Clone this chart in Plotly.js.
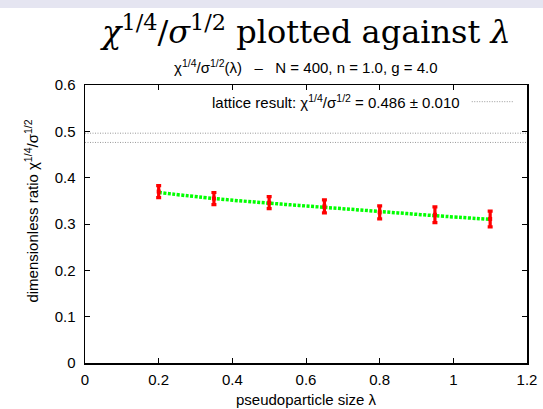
<!DOCTYPE html>
<html>
<head>
<meta charset="utf-8">
<script src="https://cdn.plot.ly/plotly-3.0.1.min.js"></script>
<style>
html,body{margin:0;padding:0;background:#fff;}
#chart{width:543px;height:409px;}
</style>
</head>
<body>
<div id="chart"></div>
<script>
// data
var lambdaVals = [0.2, 0.35, 0.5, 0.65, 0.8, 0.95, 1.1];
var ratioVals  = [0.370, 0.355, 0.346, 0.338, 0.325, 0.320, 0.311];
var ratioErr   = [0.013, 0.013, 0.013, 0.014, 0.014, 0.017, 0.017];
var fitVals    = [0.368, 0.355, 0.345, 0.336, 0.327, 0.318, 0.310];
var latticeX   = [0, 1.2];
var latticeMean = 0.486;
var latticeErr  = 0.010;
var latticeUpper = [latticeMean + latticeErr, latticeMean + latticeErr];
var latticeLower = [latticeMean - latticeErr, latticeMean - latticeErr];
var xTicks = [0, 0.2, 0.4, 0.6, 0.8, 1, 1.2];
var xTickText = ["0", "0.2", "0.4", "0.6", "0.8", "1", "1.2"];
var yTicks = [0, 0.1, 0.2, 0.3, 0.4, 0.5, 0.6];
var yTickText = ["0", "0.1", "0.2", "0.3", "0.4", "0.5", "0.6"];

var sans = "Liberation Sans, Arial, sans-serif";
var serif = "DejaVu Serif, Liberation Serif, serif";
var sp = "\u00A0\u00A0\u00A0";

var traces = [
  {x: latticeX, y: latticeUpper, mode: 'lines', line: {color: '#999999', width: 1, dash: '1px,1.5px'}, hoverinfo: 'skip'},
  {x: latticeX, y: latticeLower, mode: 'lines', line: {color: '#999999', width: 1, dash: '1px,1.5px'}, hoverinfo: 'skip'},
  {x: lambdaVals, y: fitVals, mode: 'lines', line: {color: '#00ff00', width: 3.5, dash: '3px,1.5px', shape: 'spline'}},
  {x: lambdaVals, y: ratioVals, mode: 'markers',
   marker: {color: '#ff0000', size: 4, symbol: 'square'},
   error_y: {type: 'data', array: ratioErr, visible: true, color: '#ff0000', thickness: 3.2, width: 2.5}}
];

var axisCommon = {
  showgrid: false, zeroline: false, showline: true, mirror: 'ticks',
  linecolor: '#000', linewidth: 1.5, ticks: 'inside', ticklen: 5, tickcolor: '#000',
  tickfont: {family: sans, size: 15, color: '#000'}
};

var layout = {
  width: 543, height: 409,
  margin: {l: 85, r: 16, t: 85, b: 46},
  paper_bgcolor: '#fff', plot_bgcolor: '#fff',
  showlegend: false,
  xaxis: Object.assign({}, axisCommon, {
    range: [0, 1.2], tickvals: xTicks, ticktext: xTickText, ticklabelstandoff: 2
  }),
  yaxis: Object.assign({}, axisCommon, {
    range: [0, 0.6], tickvals: yTicks, ticktext: yTickText, ticklabelstandoff: 5
  }),
  shapes: [
    {type: 'rect', xref: 'paper', yref: 'paper', x0: -0.3, x1: 1.1, y0: 1.277, y1: 1.4,
     fillcolor: '#e5e5f1', line: {width: 0}, layer: 'below'},
    {type: 'line', xref: 'paper', yref: 'paper', x0: 0.875, x1: 0.968, y0: 0.94, y1: 0.94,
     line: {color: '#999999', width: 1, dash: '1px,1.5px'}}
  ],
  annotations: [
    {xref: 'paper', yref: 'paper', x: 0.499, y: 1.198, xanchor: 'center', yanchor: 'middle', showarrow: false,
     text: '<i>χ</i><sup>1/4</sup>/<i>σ</i><sup>1/2</sup> plotted against <i>λ</i>',
     font: {family: serif, size: 32, color: '#000'}},
    {xref: 'paper', yref: 'paper', x: 0.499, y: 1.066, xanchor: 'center', yanchor: 'middle', showarrow: false,
     text: 'χ<sup>1/4</sup>/σ<sup>1/2</sup>(λ)' + sp + '–' + sp + 'N = 400, n = 1.0, g = 4.0',
     font: {family: sans, size: 15, color: '#000'}},
    {xref: 'paper', yref: 'paper', x: 0.852, y: 0.942, xanchor: 'right', yanchor: 'middle', showarrow: false,
     text: 'lattice result: χ<sup>1/4</sup>/σ<sup>1/2</sup> = 0.486 ± 0.010',
     font: {family: sans, size: 15, color: '#000'}},
    {xref: 'paper', yref: 'paper', x: 0.5, y: -0.13, xanchor: 'center', yanchor: 'middle', showarrow: false,
     text: 'pseudoparticle size λ',
     font: {family: sans, size: 15, color: '#000'}},
    {xref: 'paper', yref: 'paper', x: -0.122, y: 0.545, xanchor: 'center', yanchor: 'middle', showarrow: false,
     textangle: -90,
     text: 'dimensionless ratio χ<sup>1/4</sup>/σ<sup>1/2</sup>',
     font: {family: sans, size: 15, color: '#000'}}
  ]
};

Plotly.newPlot('chart', traces, layout, {displayModeBar: false, staticPlot: true});
</script>
</body>
</html>
